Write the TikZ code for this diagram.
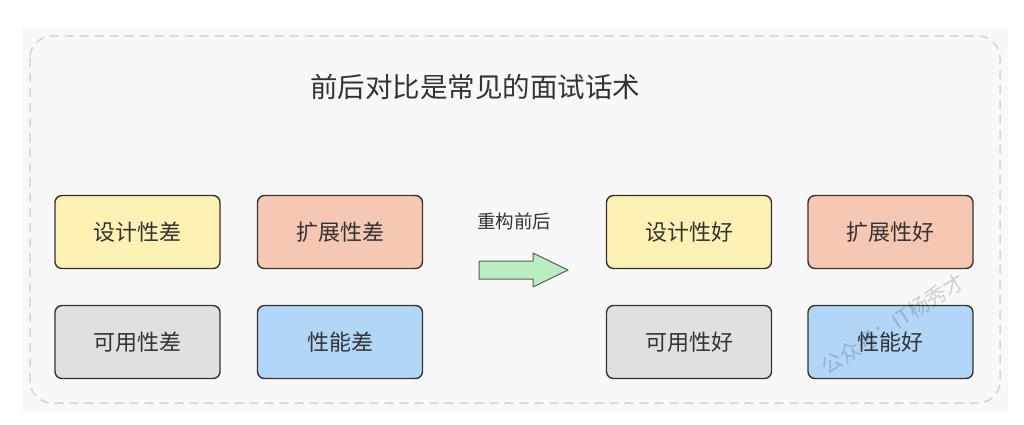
\documentclass[tikz,border=0pt]{standalone}
\usepackage{fontspec}
\setmainfont{Noto Sans CJK SC}
\definecolor{bgpanel}{HTML}{F8F8F8}
\definecolor{dashline}{HTML}{D4D4D4}
\definecolor{inkdark}{HTML}{333333}
\definecolor{cyellow}{HTML}{FDF2B4}
\definecolor{csalmon}{HTML}{F6C8B3}
\definecolor{cgray}{HTML}{E0E0E0}
\definecolor{cblue}{HTML}{B1D6F8}
\definecolor{cgreen}{HTML}{BAEDBF}
\begin{document}
\begin{tikzpicture}[x=1pt,y=-1pt,
  kbox/.style={draw=inkdark,line width=1.4pt,rounded corners=7pt,minimum width=165pt,minimum height=73pt,inner sep=0pt,text=inkdark,font=\fontsize{22}{25}\selectfont},
  ktitle/.style={text=inkdark,font=\fontsize{27.5}{31}\selectfont},
  klabel/.style={text=inkdark,font=\fontsize{18.5}{21}\selectfont},
  kmark/.style={text=black,text opacity=0.16,font=\fontsize{21}{24}\selectfont,rotate=33},
  karrow/.style={draw=inkdark!80,fill=cgreen,line width=1pt,line join=round}]
\pgfmathsetmacro{\kcola}{137.5}
\pgfmathsetmacro{\kcolb}{340}
\pgfmathsetmacro{\kcolc}{689}
\pgfmathsetmacro{\kcold}{890.5}
\pgfmathsetmacro{\krowa}{232}
\pgfmathsetmacro{\krowb}{342}
\useasboundingbox(0,0) rectangle (1024,424);
\fill[white](0,0) rectangle (1024,424);
\fill[bgpanel](22,27) rectangle (1008,411);
\draw[dashline,line width=1.5pt,dash pattern=on 9pt off 6pt,rounded corners=22pt](30,36) rectangle (1000,403);
\node[ktitle](title) at (475,87) {前后对比是常见的面试话术};
% before
\node[kbox,fill=cyellow](designbad) at (\kcola,\krowa) {设计性差};
\node[kbox,fill=csalmon](extendbad) at (\kcolb,\krowa) {扩展性差};
\node[kbox,fill=cgray](availbad) at (\kcola,\krowb) {可用性差};
\node[kbox,fill=cblue](perfbad) at (\kcolb,\krowb) {性能差};
% after
\node[kbox,fill=cyellow](designgood) at (\kcolc,\krowa) {设计性好};
\node[kbox,fill=csalmon](extendgood) at (\kcold,\krowa) {扩展性好};
\node[kbox,fill=cgray](availgood) at (\kcolc,\krowb) {可用性好};
\node[kbox,fill=cblue](perfgood) at (\kcold,\krowb) {性能好};
% refactor arrow
\node[klabel](refactor) at (514,221) {重构前后};
\draw[karrow](479,261)--(533,261)--(533,253)--(568,270)--(533,287)--(533,279)--(479,279)--cycle;
% watermark
\node[kmark](mark) at (893,324) {公众号：IT杨秀才};
\end{tikzpicture}
\end{document}
